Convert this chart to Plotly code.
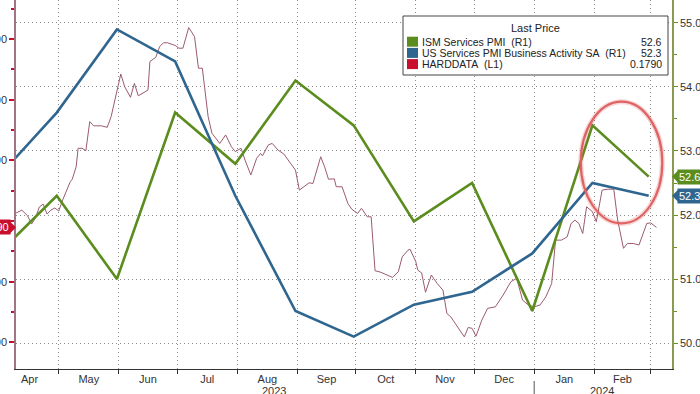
import plotly.graph_objects as go

# ---------------- data ----------------
month_dates = ["2023-03-31", "2023-04-30", "2023-05-31", "2023-06-30", "2023-07-31", "2023-08-31",
               "2023-09-30", "2023-10-31", "2023-11-30", "2023-12-31", "2024-01-31", "2024-02-29"]
ism_services = [51.4, 52.3, 51.0, 53.6, 52.8, 54.1, 53.4, 51.9, 52.5, 50.5, 53.4, 52.6]
us_services_pmi = [52.6, 53.6, 54.9, 54.4, 52.3, 50.5, 50.1, 50.6, 50.8, 51.4, 52.5, 52.3]

hard_dates = [
    "2023-04-08", "2023-04-12", "2023-04-15", "2023-04-17", "2023-04-19", "2023-04-21", "2023-04-23",
    "2023-04-25", "2023-04-27", "2023-04-29", "2023-05-01", "2023-05-03", "2023-05-07", "2023-05-08",
    "2023-05-10", "2023-05-11", "2023-05-13", "2023-05-15", "2023-05-17", "2023-05-19", "2023-05-23",
    "2023-05-26", "2023-05-28", "2023-05-30", "2023-06-02", "2023-06-04", "2023-06-07", "2023-06-09",
    "2023-06-11", "2023-06-16", "2023-06-17", "2023-06-20", "2023-06-22", "2023-06-24", "2023-06-26",
    "2023-06-30", "2023-07-02", "2023-07-04", "2023-07-07", "2023-07-10", "2023-07-12", "2023-07-14",
    "2023-07-15", "2023-07-17", "2023-07-19", "2023-07-22", "2023-07-23", "2023-07-26", "2023-07-29",
    "2023-07-31", "2023-08-03", "2023-08-05", "2023-08-08", "2023-08-11", "2023-08-13", "2023-08-14",
    "2023-08-17", "2023-08-19", "2023-08-22", "2023-08-25", "2023-08-28", "2023-08-31", "2023-09-02",
    "2023-09-05", "2023-09-07", "2023-09-09", "2023-09-13", "2023-09-15", "2023-09-17", "2023-09-20",
    "2023-09-21", "2023-09-24", "2023-09-27", "2023-09-29", "2023-10-02", "2023-10-04", "2023-10-07",
    "2023-10-09", "2023-10-11", "2023-10-14", "2023-10-17", "2023-10-20", "2023-10-23", "2023-10-25",
    "2023-10-28", "2023-10-29", "2023-11-01", "2023-11-02", "2023-11-04", "2023-11-06", "2023-11-09",
    "2023-11-12", "2023-11-15", "2023-11-17", "2023-11-19", "2023-11-23", "2023-11-26", "2023-11-28",
    "2023-11-30", "2023-12-02", "2023-12-05", "2023-12-08", "2023-12-12", "2023-12-16", "2023-12-20",
    "2023-12-23", "2023-12-26", "2023-12-29", "2024-01-01", "2024-01-04", "2024-01-07", "2024-01-10",
    "2024-01-11", "2024-01-12", "2024-01-15", "2024-01-18", "2024-01-20", "2024-01-22", "2024-01-24",
    "2024-01-26", "2024-01-28", "2024-01-31", "2024-02-02", "2024-02-05", "2024-02-08", "2024-02-11",
    "2024-02-13", "2024-02-16", "2024-02-18", "2024-02-21", "2024-02-24", "2024-02-26", "2024-02-28",
    "2024-03-01", "2024-03-04"]
hard_values = [
    0.223, 0.236, 0.217, 0.190, 0.210, 0.246, 0.256,
    0.223, 0.236, 0.243, 0.233, 0.269, 0.330, 0.338,
    0.379, 0.440, 0.440, 0.432, 0.528, 0.514, 0.514,
    0.509, 0.544, 0.599, 0.685, 0.643, 0.608, 0.654,
    0.613, 0.632, 0.726, 0.740, 0.775, 0.788, 0.788,
    0.779, 0.770, 0.770, 0.838, 0.808, 0.704, 0.704,
    0.643, 0.544, 0.489, 0.462, 0.456, 0.484, 0.445,
    0.429, 0.440, 0.401, 0.352, 0.407, 0.423, 0.415,
    0.451, 0.456, 0.434, 0.421, 0.396, 0.368, 0.302,
    0.316, 0.326, 0.324, 0.412, 0.379, 0.338, 0.339,
    0.313, 0.313, 0.258, 0.239, 0.225, 0.242, 0.214,
    0.214, 0.036, 0.031, 0.022, 0.014, 0.033, 0.082,
    0.104, 0.107, 0.066, 0.038, 0.029, -0.035, 0.022,
    -0.006, -0.028, -0.105, -0.116, -0.154, -0.182, -0.151,
    -0.154, -0.180, -0.127, -0.088, -0.083, -0.044, 0.000,
    0.011, -0.061, -0.077, -0.083, -0.077, -0.050, -0.006,
    0.082, 0.137, 0.137, 0.148, 0.192, 0.203, 0.192,
    0.159, 0.247, 0.231, 0.198, 0.302, 0.305, 0.305,
    0.203, 0.110, 0.126, 0.126, 0.121, 0.154, 0.192,
    0.194, 0.179]

series_names = ["ISM Services PMI\u00a0 (R1)",
                "US Services PMI Business Activity SA\u00a0 (R1)",
                "HARDDATA\u00a0 (L1)"]
last_labels = ["52.6", "52.3", "0.1790"]
left_tickvals = [-0.2, 0.0, 0.2, 0.4, 0.6, 0.8]
left_ticktext = ["-0.200", "0.000", "", "0.400", "0.600", "0.800"]  # 0.200 sits under the last-value tag
year_labels = ["2023", "2024"]
year_centers = ["2023-08-20", "2024-02-05"]

# ---------------- style ----------------
GREEN = "#5b8c1e"
BLUE = "#2f6690"
PURPLE = "#9b5b6f"
RED = "#c8102e"
TXT = "#333333"
FONT = "Liberation Sans Narrow, Arial Narrow, Liberation Sans, Arial, sans-serif"
LFONT = "Liberation Sans, Arial, sans-serif"
GRID = "#8c8c8c"
GDASH = "1px,3px"

W, H = 700, 394
ML, MR, MT, MB = 16, 28, 0, 25
PW, PH = W - ML - MR, H - MT - MB


def px(xp):
    return (xp - ML) / PW


def py(yp):
    return 1 - (yp - MT) / PH


fig = go.Figure()
fig.add_trace(go.Scatter(x=hard_dates, y=hard_values, mode="lines", yaxis="y",
                         line=dict(color=PURPLE, width=1), name=series_names[2], hoverinfo="skip"))
fig.add_trace(go.Scatter(x=month_dates, y=ism_services, mode="lines", yaxis="y2",
                         line=dict(color=GREEN, width=2.6), name=series_names[0]))
fig.add_trace(go.Scatter(x=month_dates, y=us_services_pmi, mode="lines", yaxis="y2",
                         line=dict(color=BLUE, width=2.6), name=series_names[1]))

fig.update_layout(
    template="none",
    width=W, height=H,
    margin=dict(l=ML, r=MR, t=MT, b=MB, pad=0),
    paper_bgcolor="white", plot_bgcolor="white",
    showlegend=False,
    font=dict(family=FONT, size=11, color=TXT),
    xaxis=dict(type="date", range=["2023-04-09", "2024-03-12"], dtick="M1", tick0="2023-05-01",
               ticklabelmode="period", tickformat="%b", showgrid=True, gridcolor=GRID,
               griddash=GDASH, gridwidth=1, ticks="outside", ticklen=4, tickcolor=TXT,
               ticklabelstandoff=-4,
               showline=True, linecolor="#333", linewidth=1, zeroline=False, automargin=False,
               tickfont=dict(family=FONT, size=11, color=TXT)),
    yaxis=dict(range=[-0.288, 0.929], tickmode="array", tickvals=left_tickvals, ticktext=left_ticktext,
               showgrid=False,
               zeroline=False, ticks="outside", ticklen=5, tickwidth=2, tickcolor=RED,
               showline=True, linecolor="#a07484", linewidth=1.5, automargin=False,
               minor=dict(dtick=0.1, tick0=0, ticks="outside", ticklen=3, tickcolor=RED, showgrid=False),
               tickfont=dict(family=FONT, size=11, color=TXT)),
    yaxis2=dict(overlaying="y", side="right", range=[49.594, 55.359], dtick=1, tick0=50,
                tickformat=".1f", showgrid=True, gridcolor=GRID, griddash=GDASH, gridwidth=1,
                zeroline=False, ticks="outside", ticklen=4, tickcolor="#6b8e23",
                showline=True, linecolor="#8a9a50", linewidth=1.5, automargin=False,
                minor=dict(dtick=0.5, ticks="outside", ticklen=3, tickcolor="#6b8e23", showgrid=False),
                tickfont=dict(family=FONT, size=11, color=TXT)),
)

shapes = []
annotations = []

# highlight ellipse around the latest readings
shapes.append(dict(type="circle", xref="x", yref="y2", x0="2024-01-25", x1="2024-03-07",
                   y0=51.87, y1=53.77, line=dict(color="rgba(220,90,90,0.25)", width=5), layer="above"))
shapes.append(dict(type="circle", xref="x", yref="y2", x0="2024-01-25", x1="2024-03-07",
                   y0=51.87, y1=53.77, line=dict(color="#e06262", width=2.2), layer="above"))

# legend box
shapes.append(dict(type="rect", xref="paper", yref="paper", x0=px(403), x1=px(668), y0=py(75), y1=py(16),
                   line=dict(color="#444", width=1), fillcolor="white", layer="above"))
annotations.append(dict(text="Last Price", xref="paper", yref="paper", x=px(535), y=py(28),
                        showarrow=False, xanchor="center", yanchor="middle",
                        font=dict(family=LFONT, size=11, color="#222")))
row_colors = [GREEN, BLUE, RED]
row_y = [41.7, 52.9, 64.1]
for name, val, col, ry in zip(series_names, last_labels, row_colors, row_y):
    shapes.append(dict(type="rect", xref="paper", yref="paper", x0=px(407), x1=px(418),
                       y0=py(ry + 5), y1=py(ry - 5), line=dict(width=0), fillcolor=col, layer="above"))
    annotations.append(dict(text=name, xref="paper", yref="paper", x=px(420), y=py(ry),
                            showarrow=False, xanchor="left", yanchor="middle",
                            font=dict(family=LFONT, size=10.5, color="#222")))
    annotations.append(dict(text=val, xref="paper", yref="paper", x=px(664), y=py(ry),
                            showarrow=False, xanchor="right", yanchor="middle",
                            font=dict(family=LFONT, size=10.5, color="#222")))

# last value tags (right axis)
for val, col, lab in [(ism_services[-1], GREEN, last_labels[0]), (us_services_pmi[-1], BLUE, last_labels[1])]:
    h = 6 / 64
    shapes.append(dict(type="path", xref="paper", yref="y2",
                       path=f"M 1,{val} L {1 + 6 / PW},{val + h} L {1 + 6 / PW},{val - h} Z",
                       line=dict(width=0), fillcolor=col, layer="above"))
    annotations.append(dict(text=lab, xref="paper", yref="y2", x=1, y=val, xshift=5,
                            showarrow=False, xanchor="left", yanchor="middle", bgcolor=col,
                            borderpad=1, font=dict(family=FONT, size=11, color="white")))
# last value tag (left axis)
hv = hard_values[-1]
h = 6 / 303
shapes.append(dict(type="path", xref="paper", yref="y",
                   path=f"M 0,{hv} L {-6 / PW},{hv + h} L {-6 / PW},{hv - h} Z",
                   line=dict(width=0), fillcolor=RED, layer="above"))
annotations.append(dict(text=last_labels[2], xref="paper", yref="y", x=0, y=hv, xshift=-5,
                        showarrow=False, xanchor="right", yanchor="middle", bgcolor=RED,
                        borderpad=1, font=dict(family=FONT, size=11, color="white")))

# year labels and divider
for lab, xc in zip(year_labels, year_centers):
    annotations.append(dict(text=lab, xref="x", yref="paper", x=xc, y=py(390.5), showarrow=False,
                            xanchor="center", yanchor="middle", font=dict(family=FONT, size=11, color=TXT)))
shapes.append(dict(type="line", xref="x", yref="paper", x0="2024-01-01", x1="2024-01-01",
                   y0=py(381), y1=py(394), line=dict(color="#555", width=1)))

fig.update_layout(shapes=shapes, annotations=annotations)
fig.write_html("out.html", config={"displayModeBar": False},
               post_script="document.body.style.margin='0';document.body.style.overflow='hidden';")
